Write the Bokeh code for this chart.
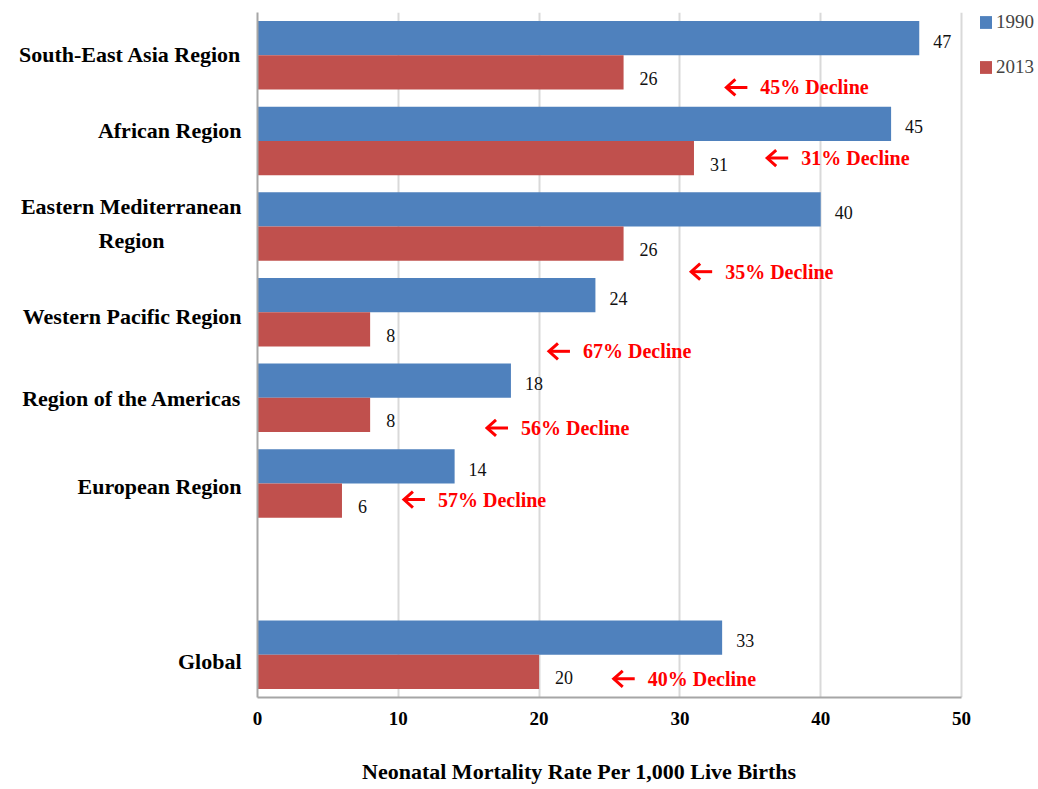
from bokeh.plotting import figure
from bokeh.models import Range1d, ColumnDataSource, Legend, LegendItem, FixedTicker
from bokeh.core.properties import value
from bokeh.embed import file_html
from bokeh.resources import INLINE

# ---------------- data ----------------
regions = ["South-East Asia Region", "African Region", "Eastern Mediterranean Region",
           "Western Pacific Region", "Region of the Americas", "European Region", "Global"]
rate_1990 = [47, 45, 40, 24, 18, 14, 33]
rate_2013 = [26, 31, 26, 8, 8, 6, 20]
decline_pct = [45, 31, 35, 67, 56, 57, 40]
series_names = ["1990", "2013"]
x_ticks = [0, 10, 20, 30, 40, 50]
x_title = "Neonatal Mortality Rate Per 1,000 Live Births"
label_lines = {"Eastern Mediterranean Region": ["Eastern Mediterranean", "Region"]}

# ---------------- layout ----------------
W, H = 1038, 789
BORDER_L, BORDER_T, BORDER_B = 257, 12, 92
AXIS_W = 704                      # pixel length of the 0..50 axis
LEGEND_W = W - BORDER_L - AXIS_W  # space right of the axis, kept inside the frame for the legend
FRAME_W = W - BORDER_L
FRAME_H = H - BORDER_T - BORDER_B
X_MAX = 50
PX_X = AXIS_W / X_MAX             # pixels per x unit
X_END = X_MAX + LEGEND_W / PX_X

# annotation placement of the "decline" notes
note_x = [33.3, 36.2, 30.8, 20.7, 16.3, 10.4, 25.3]   # x (data units) of arrow tip
note_dy = [15, 0, 28, 22, 13, -1, 7]                   # pixel nudge below the 2013 bar
label_dy = [-1, -10, -3, 4, 1, 3, 7]                   # pixel nudge of the category labels

BLUE = "#4F81BD"
RED = "#C0504D"
NOTE_RED = "#FF0000"
SERIF = "Liberation Serif"
NBSP = "\u00a0"

# slot order, top to bottom, with an empty slot before "Global"
slot_labels = regions[:-1] + [None] + regions[-1:]
n_slots = len(slot_labels)
PX_Y = FRAME_H / n_slots
center = {name: n_slots - 0.5 - k for k, name in enumerate(slot_labels) if name}
yc = [center[r] for r in regions]
BAR_H = 0.4

# arrow geometry (pixels)
SHAFT, ARM_X, ARM_Y = 21, 9, 8
ay = [c - BAR_H / 2 - d / PX_Y for c, d in zip(yc, note_dy)]

src = ColumnDataSource(dict(
    region=regions,
    r1990=rate_1990,
    r2013=rate_2013,
    y1990=[c + BAR_H / 2 for c in yc],
    y2013=[c - BAR_H / 2 for c in yc],
    lab1990=[str(v) for v in rate_1990],
    lab2013=[str(v) for v in rate_2013],
    decline=[f"{d}% Decline" for d in decline_pct],
    nx=note_x,
    ndy=note_dy,
    ay=ay,
    ax0=[x + SHAFT / PX_X for x in note_x],
    hx=[[x + ARM_X / PX_X, x, x + ARM_X / PX_X] for x in note_x],
    hy=[[y + ARM_Y / PX_Y, y, y - ARM_Y / PX_Y] for y in ay],
))

p = figure(width=W, height=H,
           y_range=Range1d(0, n_slots), x_range=Range1d(0, X_END),
           output_backend="svg", toolbar_location=None,
           min_border_left=BORDER_L, min_border_right=0,
           min_border_top=BORDER_T, min_border_bottom=BORDER_B)

r1 = p.hbar(y="y1990", left=0, right="r1990", height=BAR_H, fill_color=BLUE, line_color=None, source=src)
r2 = p.hbar(y="y2013", left=0, right="r2013", height=BAR_H, fill_color=RED, line_color=None, source=src)

# value labels
p.text(x="r1990", y="y1990", text="lab1990", source=src, x_offset=14, y_offset=3,
       text_baseline="middle", text_align="left", text_font=value(SERIF),
       text_font_size="18px", text_color="#111111")
p.text(x="r2013", y="y2013", text="lab2013", source=src, x_offset=16, y_offset=6,
       text_baseline="middle", text_align="left", text_font=value(SERIF),
       text_font_size="18px", text_color="#111111")

# decline notes: arrow (shaft + open head) and text
p.segment(x0="nx", y0="ay", x1="ax0", y1="ay", source=src, line_color=NOTE_RED, line_width=3)
p.multi_line(xs="hx", ys="hy", source=src, line_color=NOTE_RED, line_width=3, line_join="miter")
p.text(x="nx", y="y2013", text="decline", source=src, x_offset=34, y_offset="ndy",
       text_baseline="middle", text_align="left", text_font=value(SERIF),
       text_font_style="bold", text_font_size="20px", text_color=NOTE_RED)

# grid / frame
p.xgrid.ticker = FixedTicker(ticks=x_ticks)
p.xgrid.grid_line_color = "#D9D9D9"
p.xgrid.grid_line_width = 2
p.ygrid.grid_line_color = None
p.outline_line_color = None

# x axis
xa = p.xaxis[0]
xa.ticker = FixedTicker(ticks=x_ticks)
xa.bounds = (0, X_MAX)
xa.major_tick_out = 0
xa.major_tick_in = 0
xa.minor_tick_out = 0
xa.minor_tick_in = 0
xa.axis_line_color = "#A6A6A6"
xa.axis_line_width = 2
xa.major_label_standoff = 14
xa.major_label_text_font = SERIF
xa.major_label_text_font_style = "bold"
xa.major_label_text_font_size = "19px"
xa.major_label_text_color = "#000000"
xa.axis_label = x_title + NBSP * 25
xa.axis_label_standoff = 31
xa.axis_label_text_font = SERIF
xa.axis_label_text_font_style = "bold"
xa.axis_label_text_font_size = "22px"
xa.axis_label_text_color = "#000000"

# y axis: category names as tick labels (two-line names get one tick per line)
tick_pos, overrides = [], {}
for r, c, d in zip(regions, yc, label_dy):
    lines = label_lines.get(r, [r])
    c = c - d / PX_Y
    if len(lines) == 1:
        pos = round(c, 4)
        tick_pos.append(pos)
        overrides[pos] = r
    else:
        first, second = lines
        p1, p2 = round(c + 0.2, 4), round(c - 0.2, 4)
        tick_pos += [p1, p2]
        overrides[p1] = first
        overrides[p2] = second + NBSP * 14   # centre the short second line
ya = p.yaxis[0]
ya.ticker = FixedTicker(ticks=tick_pos)
ya.major_label_overrides = overrides
ya.major_tick_out = 0
ya.major_tick_in = 0
ya.minor_tick_out = 0
ya.minor_tick_in = 0
ya.axis_line_color = "#A6A6A6"
ya.axis_line_width = 2
ya.major_label_standoff = 16
ya.major_label_text_font = SERIF
ya.major_label_text_font_style = "bold"
ya.major_label_text_font_size = "22px"
ya.major_label_text_color = "#000000"

legend = Legend(items=[LegendItem(label=series_names[0], renderers=[r1]),
                       LegendItem(label=series_names[1], renderers=[r2])],
                location=(AXIS_W + 17, FRAME_H - 66), glyph_width=15, glyph_height=16,
                label_height=16, spacing=23, padding=0, margin=0, label_standoff=3,
                border_line_color=None, background_fill_alpha=0,
                label_text_font=SERIF, label_text_font_size="19px")
p.add_layout(legend)

open("out.html", "w").write(file_html(p, INLINE))
